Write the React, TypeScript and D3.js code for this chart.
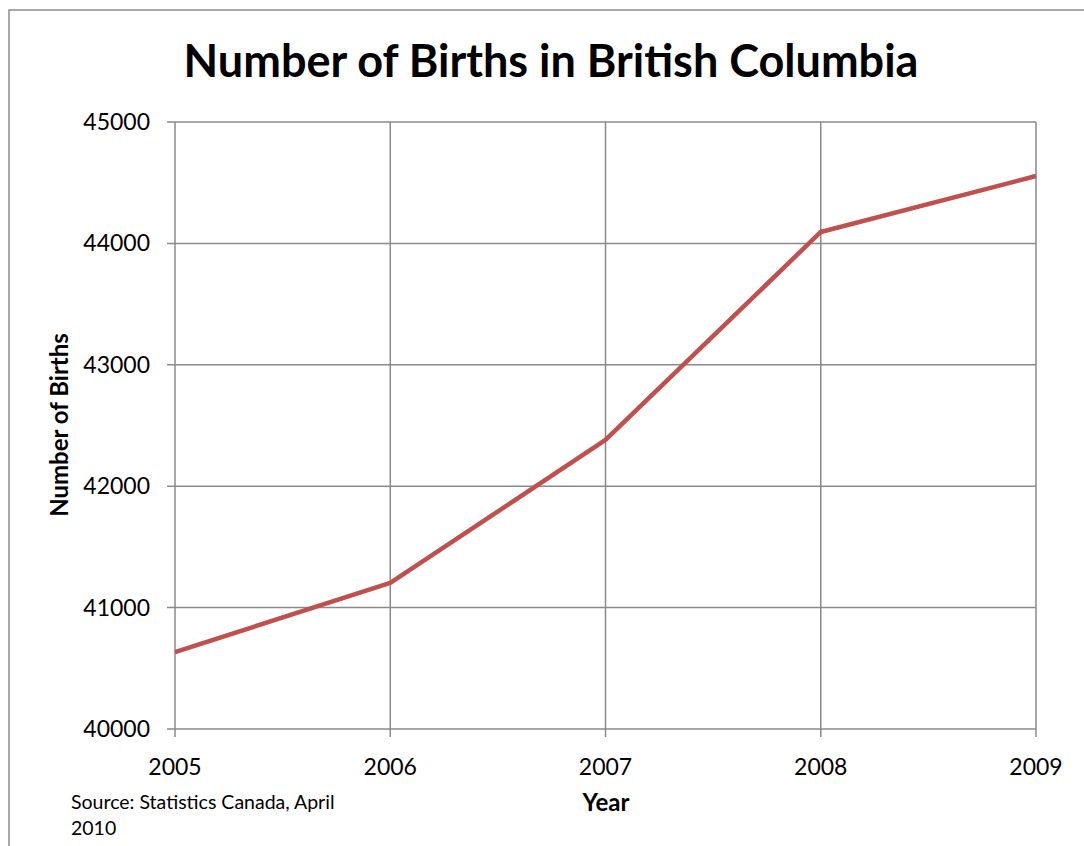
import React from "react";
import * as d3 from "d3";

const years = [2005, 2006, 2007, 2008, 2009];
const births = [40634, 41203, 42381, 44094, 44555];
const yTicks = [40000, 41000, 42000, 43000, 44000, 45000];

const W = 1084;
const H = 846;
const FONT = "Lato, 'Open Sans', sans-serif";

export default function App() {
  const left = 175, right = 1036, top = 122, bottom = 729;
  const x = d3.scaleLinear().domain([2005, 2009]).range([left, right]);
  const y = d3.scaleLinear().domain([40000, 45000]).range([bottom, top]);
  const line = d3
    .line<number>()
    .x((_, i) => x(years[i]))
    .y((d) => y(d));
  const grid = "#8a8a8a";
  return (
    <svg
      width={W}
      height={H}
      style={{ position: "absolute", left: 0, top: 0, background: "#fff" }}
    >
      <rect x={9} y={10} width={1200} height={1000} fill="#fff" stroke="#8a8a8a" strokeWidth={1.5} />
      <text x={551} y={77} textAnchor="middle" fontFamily={FONT} fontWeight="bold" fontSize={45}>
        Number of Births in British Columbia
      </text>
      {yTicks.map((t) => (
        <g key={t}>
          <line x1={left - 8} x2={right} y1={y(t)} y2={y(t)} stroke={grid} strokeWidth={1.5} />
          <text x={150} y={y(t)} dy="0.35em" textAnchor="end" fontFamily={FONT} fontSize={23}>
            {t}
          </text>
        </g>
      ))}
      {years.map((yr) => (
        <g key={yr}>
          <line x1={x(yr)} x2={x(yr)} y1={top} y2={bottom + 8} stroke={grid} strokeWidth={1.5} />
          <text x={x(yr)} y={775} textAnchor="middle" fontFamily={FONT} fontSize={23}>
            {yr}
          </text>
        </g>
      ))}
      <path d={line(births) || ""} fill="none" stroke="#C0504D" strokeWidth={4.5} strokeLinejoin="round" />
      <text
        transform={`translate(68,425) rotate(-90)`}
        textAnchor="middle"
        fontFamily={FONT}
        fontWeight="bold"
        fontSize={24}
      >
        Number of Births
      </text>
      <text x={606} y={811} textAnchor="middle" fontFamily={FONT} fontWeight="bold" fontSize={24}>
        Year
      </text>
      <text x={71} y={809} fontFamily={FONT} fontSize={19.5}>
        Source: Statistics Canada, April
      </text>
      <text x={71} y={835} fontFamily={FONT} fontSize={19.5}>
        2010
      </text>
    </svg>
  );
}
